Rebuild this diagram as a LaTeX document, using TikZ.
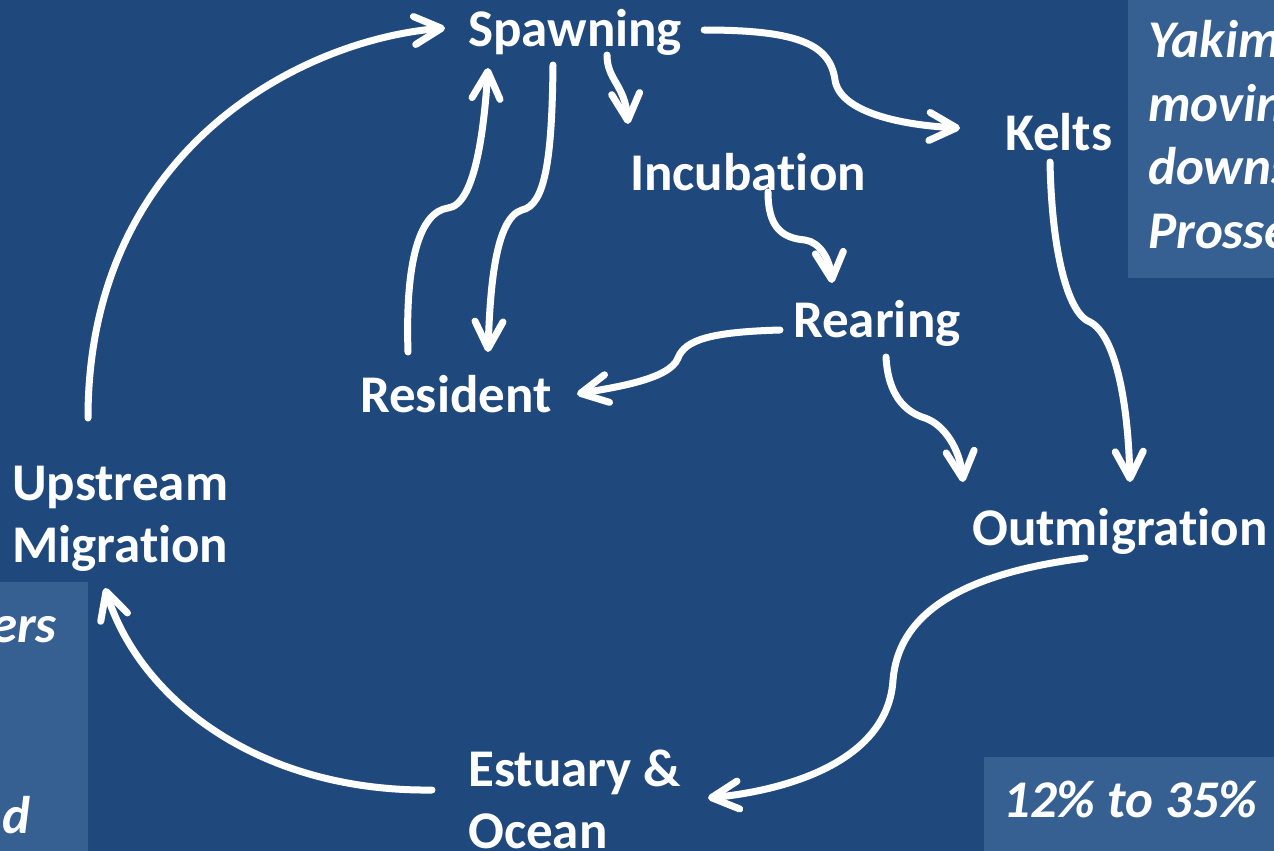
\documentclass[tikz,border=0pt]{standalone}
\usepackage{fontspec}
\setmainfont[Ligatures=NoCommon]{Carlito}
\usetikzlibrary{arrows.meta}

\definecolor{slidebg}{HTML}{1F497D}
\definecolor{notebg}{HTML}{376092}

\tikzset{
  stage/.style={text=white, font=\fontsize{53}{62}\selectfont\bfseries,
    inner sep=0pt, anchor=base west, align=left},
  note/.style={text=white, font=\fontsize{53}{64}\selectfont\bfseries\itshape,
    inner sep=0pt},
  flow/.style={white, line width=7pt, line cap=round,
    -{Straight Barb[length=27pt,width=28pt,round]}},
}

\begin{document}
\begin{tikzpicture}[x=1pt,y=-1pt]

\useasboundingbox (0,0) rectangle (1274,851);
\clip (0,0) rectangle (1274,851);

% Background and side notes
\fill[slidebg] (0,0) rectangle (1274,851);
\fill[notebg] (1128,0) rectangle (1274,278);
\fill[notebg] (0,582) rectangle (88,851);
\fill[notebg] (984,757) rectangle (1274,851);

\node[note, anchor=base west] (yakima) at (1148,58) {Yakim};
\node[note, anchor=base west] (moving) at (1148,121) {movin};
\node[note, anchor=base west] (downs) at (1148,184) {downs};
\node[note, anchor=base west] (prosser) at (1148,248) {Prosse};
\node[note, anchor=base east] (ers) at (57,642) {ers};
\node[note, anchor=base east] (andd) at (31,833) {d};
\node[note, anchor=base west] (pct) at (1003,817) {12\% to 35\%};

% Life stages (base = last line)
\node[stage] (spawn) at (468,47) {Spawning};
\node[stage] (kelts) at (1005,150) {Kelts};
\node[stage] (incub) at (630,190) {Incubation};
\node[stage] (rear) at (793,337) {Rearing};
\node[stage] (resid) at (360,412) {Resident};
\node[stage] (upmig) at (12,562) {Upstream\\Migration};
\node[stage] (outmig) at (972,545) {Outmigration};
\node[stage] (ocean) at (468,848) {Estuary \&\\Ocean};

% Cycle
\draw[flow] ([xshift=76pt,yshift=144pt]upmig.base west)
  .. controls (88,150) and (300,40) .. ([xshift=-23pt,yshift=19pt]spawn.base west);
\draw[flow] ([xshift=22pt,yshift=17pt]spawn.base east)
  .. controls (800,30) and (830,45) .. (835,80)
  .. controls (840,112) and (900,125) .. ([xshift=-45pt,yshift=22pt]kelts.base west);
\draw[flow] ([xshift=139pt,yshift=-8pt]spawn.base west)
  .. controls (607,80) and (625,85) .. ([xshift=-2pt,yshift=66pt]incub.base west);
\draw[flow] ([xshift=85pt,yshift=-18pt]spawn.base west)
  .. controls (552,160) and (545,205) .. (522,210)
  .. controls (495,218) and (490,290) .. ([xshift=128pt,yshift=60pt]resid.base west);
\draw[flow] ([xshift=48pt,yshift=60pt]resid.base west)
  .. controls (405,260) and (420,212) .. (448,208)
  .. controls (475,205) and (484,130) .. ([xshift=20pt,yshift=-21pt]spawn.base west);
\draw[flow] ([xshift=138pt,yshift=-2pt]incub.base west)
  .. controls (768,225) and (780,238) .. (805,240)
  .. controls (820,242) and (830,260) .. ([xshift=39pt,yshift=54pt]rear.base west);
\draw[flow] ([xshift=-13pt,yshift=7pt]rear.base west)
  .. controls (710,332) and (685,340) .. (678,358)
  .. controls (670,380) and (610,388) .. ([xshift=217pt,yshift=18pt]resid.base west);
\draw[flow] ([xshift=93pt,yshift=-20pt]rear.base west)
  .. controls (888,395) and (905,412) .. (925,418)
  .. controls (945,425) and (960,450) .. ([xshift=-9pt,yshift=63pt]outmig.base west);
\draw[flow] ([xshift=45pt,yshift=-12pt]kelts.base west)
  .. controls (1052,260) and (1070,315) .. (1090,322)
  .. controls (1115,335) and (1128,400) .. ([xshift=158pt,yshift=63pt]outmig.base west);
\draw[flow] ([xshift=113pt,yshift=-13pt]outmig.base west)
  .. controls (950,575) and (898,620) .. (893,680)
  .. controls (888,760) and (790,790) .. ([xshift=240pt,yshift=50pt]ocean.base west);
\draw[flow] ([xshift=-36pt,yshift=58pt]ocean.base west)
  .. controls (260,792) and (140,700) .. ([xshift=93pt,yshift=-26pt]upmig.base west);

\end{tikzpicture}
\end{document}
